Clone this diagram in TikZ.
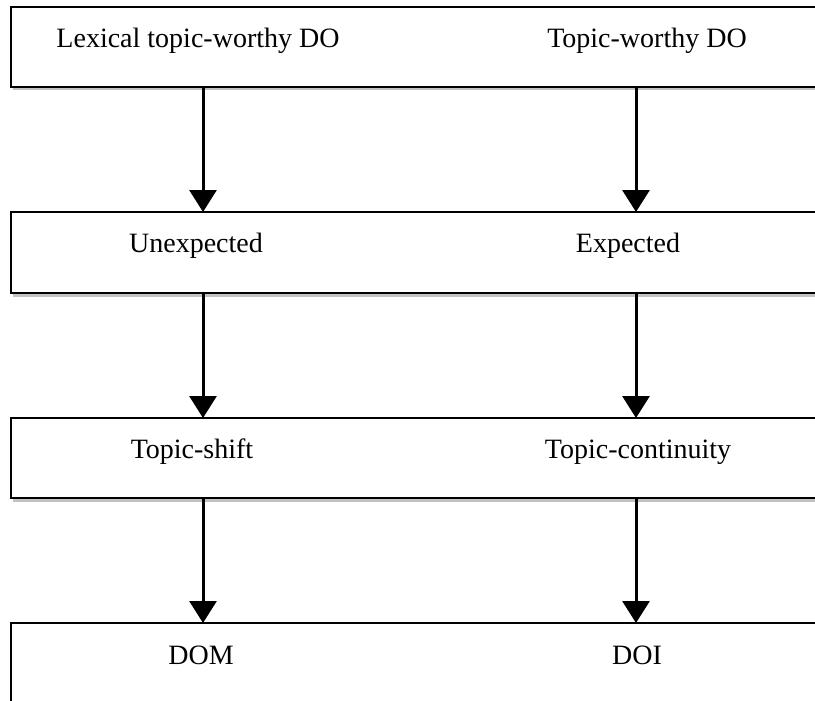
\documentclass[tikz,border=0pt]{standalone}
\usepackage{fontspec}
\setmainfont{Liberation Serif}
\usetikzlibrary{arrows.meta,shadows}
\tikzset{
  levelbox/.style={draw=black, line width=2pt, fill=white, rectangle, minimum width=819pt, inner sep=0pt,
    drop shadow={shadow xshift=1.5pt, shadow yshift=-3.5pt, opacity=0.4, fill=black!60}},
  lbl/.style={anchor=base, inner sep=0pt, font=\fontsize{28}{30}\selectfont},
  arr/.style={line width=3pt, -{Triangle[width=27pt,length=22pt]}, shorten >=-1pt},
}
\begin{document}
\begin{tikzpicture}[x=1pt,y=-1pt]
\useasboundingbox (0,0) rectangle (815,701);
\clip (0,0) rectangle (815,701);
\node[levelbox, minimum height=80pt] (b1) at (420.5,47) {};
\node[levelbox, minimum height=81pt] (b2) at (420.5,252.5) {};
\node[levelbox, minimum height=80pt] (b3) at (420.5,458) {};
\node[levelbox, minimum height=100pt] (b4) at (420.5,673) {};
\coordinate (L) at (203,0);
\coordinate (R) at (636,0);
\node[lbl] (t1l) at (198,48) {Lexical topic-worthy DO};
\node[lbl] (t1r) at (647,48) {Topic-worthy DO};
\node[lbl] (t2l) at (196,252) {Unexpected};
\node[lbl] (t2r) at (628,252) {Expected};
\node[lbl] (t3l) at (192,458) {Topic-shift};
\node[lbl] (t3r) at (638,458) {Topic-continuity};
\node[lbl] (t4l) at (201,664) {DOM};
\node[lbl] (t4r) at (637,664) {DOI};
\draw[arr] (b1.south -| L) -- (b2.north -| L);
\draw[arr] (b1.south -| R) -- (b2.north -| R);
\draw[arr] (b2.south -| L) -- (b3.north -| L);
\draw[arr] (b2.south -| R) -- (b3.north -| R);
\draw[arr] (b3.south -| L) -- (b4.north -| L);
\draw[arr] (b3.south -| R) -- (b4.north -| R);
\end{tikzpicture}
\end{document}
